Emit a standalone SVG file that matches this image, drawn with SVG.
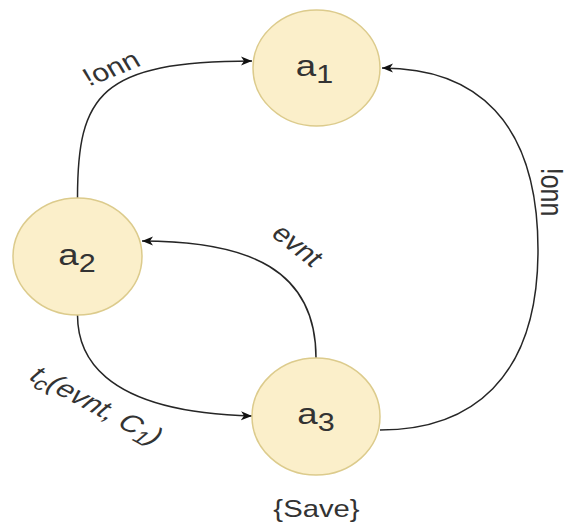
<svg xmlns="http://www.w3.org/2000/svg" width="573" height="528" viewBox="0 0 573 528">
<style>
.node{fill:#fbefca;stroke:#dccb8c;stroke-width:1.5}
.edge{fill:none;stroke:#262626;stroke-width:1.5}
.t{font-family:"Liberation Sans",Arial,sans-serif;fill:#333333}
</style>
<defs>
<marker id="arr" markerWidth="12" markerHeight="10" refX="11" refY="5" orient="auto" markerUnits="userSpaceOnUse">
<path d="M0,0.5 L11,5 L0,9.5 L3,5 Z" fill="#111"/>
</marker>
</defs>
<rect width="573" height="528" fill="#ffffff"/>
<g id="connectors">
<path class="edge" marker-end="url(#arr)" d="M77.5,198 C77.5,95 100,61 252,61"/>
<path class="edge" marker-end="url(#arr)" d="M316,358 C316,270 250,241 142,241"/>
<path class="edge" marker-end="url(#arr)" d="M77.5,315 C77.5,350 95,412 252,416"/>
<path class="edge" marker-end="url(#arr)" d="M380,430 C470,430 538,380 538,250 C538,120 475,68 382,68"/>
<text class="t" font-size="25" text-anchor="middle" dy="0.35em" transform="translate(111,68) scale(1.22,1) rotate(-26)">!onn</text>
<text class="t" font-size="25" text-anchor="middle" dy="0.35em" transform="translate(298,245) scale(1.22,1) rotate(44)">evnt</text>
<text class="t" font-size="25" font-style="italic" text-anchor="middle" dy="0.35em" transform="translate(97,405) scale(1.22,1) rotate(33)">t<tspan font-size="19" dy="5">c</tspan><tspan dy="-5">(evnt, C</tspan><tspan font-size="19" dy="5">1</tspan><tspan dy="-5">)</tspan></text>
<text class="t" font-size="25" text-anchor="middle" dy="0.35em" transform="translate(552,192) scale(1.22,1) rotate(90)">!onn</text>
</g>
<g id="a1">
<ellipse class="node" cx="316.5" cy="68" rx="63.5" ry="58"/>
<text class="t" font-size="30" text-anchor="middle" transform="translate(314.5,76) scale(1.22,1)">a<tspan font-size="25" dy="7">1</tspan></text>
</g>
<g id="a2">
<ellipse class="node" cx="77.5" cy="256.5" rx="64.5" ry="58.5"/>
<text class="t" font-size="30" text-anchor="middle" transform="translate(77,265) scale(1.22,1)">a<tspan font-size="25" dy="7">2</tspan></text>
</g>
<g id="a3">
<ellipse class="node" cx="316" cy="416.5" rx="64" ry="58.5"/>
<text class="t" font-size="30" text-anchor="middle" transform="translate(316,424) scale(1.22,1)">a<tspan font-size="25" dy="7">3</tspan></text>
<text class="t" font-size="24" text-anchor="middle" transform="translate(316.5,517) scale(1.22,1)">{Save}</text>
</g>
</svg>
